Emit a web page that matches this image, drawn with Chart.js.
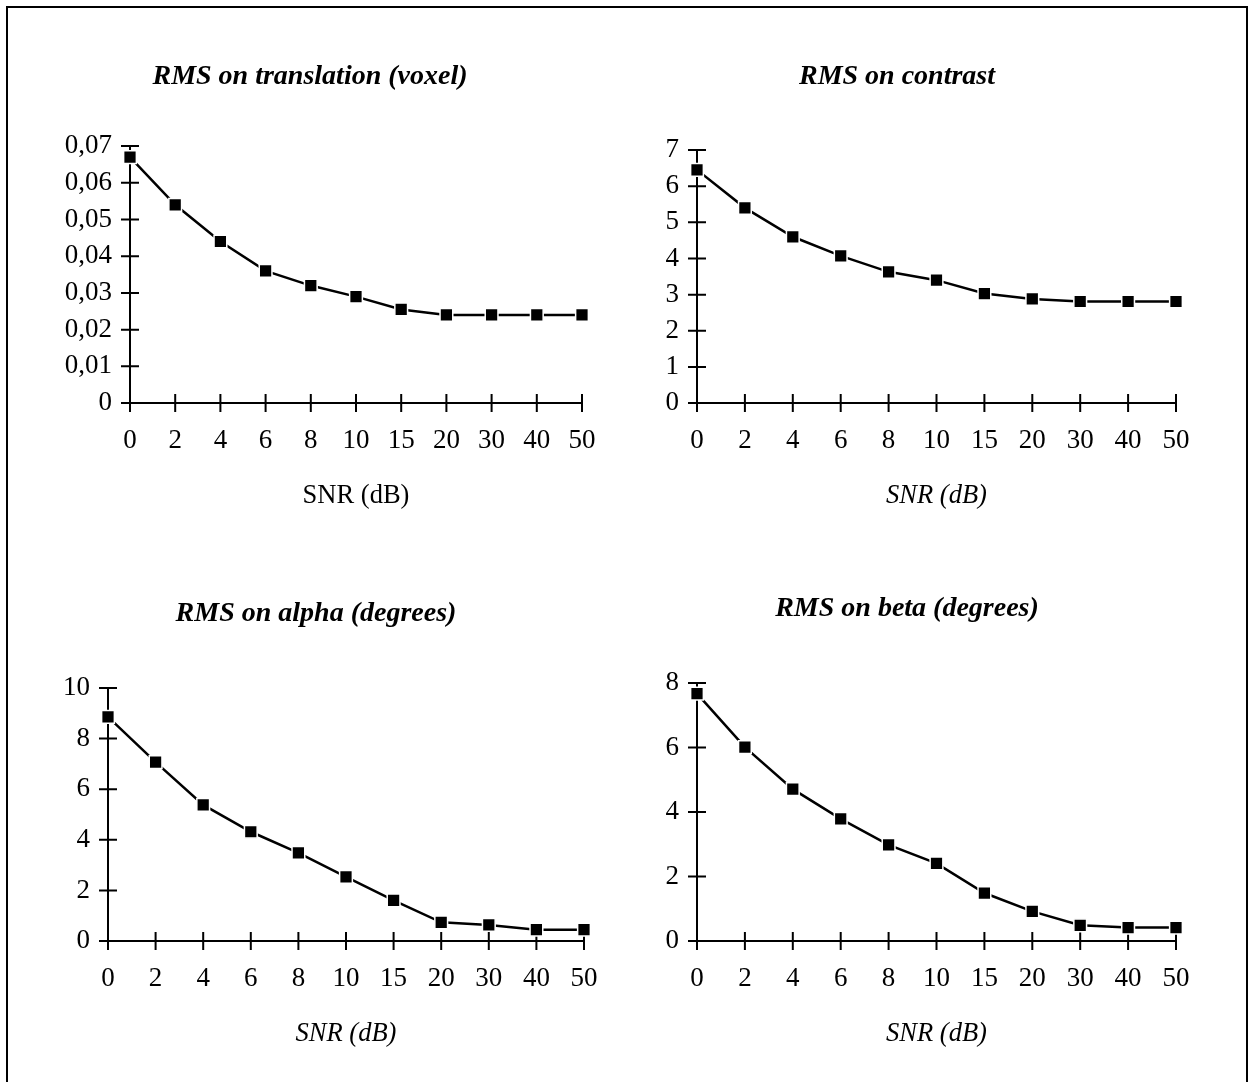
<!DOCTYPE html>
<html>
<head>
<meta charset="utf-8">
<script src="https://cdn.jsdelivr.net/npm/chart.js@4"></script>
<style>
  html, body { margin: 0; padding: 0; background: #fff; width: 1250px; height: 1082px; overflow: hidden; }
  #frame { position: absolute; left: 6px; top: 6px; width: 1238px; height: 1100px; border: 2px solid #000; }
  canvas { position: absolute; }
</style>
</head>
<body>
<div id="frame"></div>
<canvas id="c1"></canvas>
<canvas id="c2"></canvas>
<canvas id="c3"></canvas>
<canvas id="c4"></canvas>
<script>
// SNR values on the x axis
const snrLabels = ['0', '2', '4', '6', '8', '10', '15', '20', '30', '40', '50'];

// RMS errors
const rmsTranslation = [0.067, 0.054, 0.044, 0.036, 0.032, 0.029, 0.0255, 0.024, 0.024, 0.024, 0.024];
const rmsContrast = [6.45, 5.40, 4.60, 4.07, 3.63, 3.40, 3.03, 2.88, 2.81, 2.81, 2.81];
const rmsAlpha = [8.86, 7.07, 5.38, 4.32, 3.49, 2.54, 1.61, 0.74, 0.64, 0.45, 0.45];
const rmsBeta = [7.67, 6.01, 4.71, 3.79, 2.98, 2.41, 1.49, 0.92, 0.49, 0.42, 0.42];

const titles = ['RMS on translation (voxel)', 'RMS on contrast', 'RMS on alpha (degrees)', 'RMS on beta (degrees)'];
const axisTitle = 'SNR (dB)';

const FONT = '"Liberation Serif", "Times New Roman", serif';
const TICK_SIZE = 27;
const AXIS_SIZE = 26.5;
const TITLE_SIZE = 28;
// right padding has to beat half the last label + tick padding, or chart.js takes that instead
const RIGHT_PAD = 38;

// draws the little ticks that cross both axes
const crossTicks = {
  id: 'crossTicks',
  beforeDatasetsDraw(chart) {
    const ctx = chart.ctx;
    const x = chart.scales.x, y = chart.scales.y;
    ctx.save();
    ctx.strokeStyle = '#000';
    ctx.lineWidth = 2;
    ctx.beginPath();
    x.ticks.forEach((t, i) => {
      const px = x.getPixelForTick(i);
      ctx.moveTo(px, y.bottom - 9);
      ctx.lineTo(px, y.bottom + 9);
    });
    y.ticks.forEach((t, i) => {
      const py = y.getPixelForTick(i);
      ctx.moveTo(x.left - 9, py);
      ctx.lineTo(x.left + 9, py);
    });
    ctx.stroke();
    ctx.restore();
  }
};

// g: where the plot, the title and the axis title should land on the page
function makeChart(id, g, values, title, yMax, yStep, fmt, italicAxis) {
  const titleLH = TITLE_SIZE * 1.2;
  const axisLH = AXIS_SIZE * 1.2;
  const tickLH = TICK_SIZE * 1.2;
  // title is centred between canvas left and plot right
  const left = Math.round(2 * g.titleX - g.plotRight);
  const width = g.plotRight + RIGHT_PAD - left;
  const tPad = g.titleY - g.top - titleLH / 2;
  const bPad = g.plotTop - g.top - tPad - titleLH;
  const yWidth = g.axisX - left;
  const xHeight = g.axisTitleY - g.plotBottom + axisLH / 2;
  const height = Math.round(g.plotBottom + xHeight - g.top);

  const canvas = document.getElementById(id);
  canvas.width = width;
  canvas.height = height;
  canvas.style.left = left + 'px';
  canvas.style.top = g.top + 'px';

  return new Chart(canvas.getContext('2d'), {
    type: 'line',
    data: {
      labels: snrLabels,
      datasets: [{
        data: values,
        borderColor: '#000',
        borderWidth: 2.5,
        backgroundColor: '#000',
        pointStyle: 'rect',
        pointRadius: 9,
        pointBackgroundColor: '#000',
        pointBorderColor: '#fff',
        pointBorderWidth: 1.5,
        tension: 0,
        clip: false
      }]
    },
    options: {
      responsive: false,
      animation: false,
      layout: { padding: { left: 0, top: 0, bottom: 0, right: RIGHT_PAD } },
      plugins: {
        legend: { display: false },
        tooltip: { enabled: false },
        title: {
          display: true,
          text: title,
          color: '#000',
          font: { family: FONT, size: TITLE_SIZE, style: 'italic', weight: 'bold', lineHeight: 1.2 },
          padding: { top: tPad, bottom: bPad }
        }
      },
      scales: {
        x: {
          grid: { display: false, drawTicks: false },
          border: { display: true, color: '#000', width: 2 },
          ticks: {
            color: '#000',
            padding: g.tickY - g.plotBottom - tickLH / 2,
            maxRotation: 0,
            autoSkip: false,
            font: { family: FONT, size: TICK_SIZE, lineHeight: 1.2 }
          },
          title: {
            display: true,
            text: axisTitle,
            color: '#000',
            padding: 0,
            font: { family: FONT, size: AXIS_SIZE, style: italicAxis ? 'italic' : 'normal', lineHeight: 1.2 }
          },
          afterFit(scale) { scale.height = xHeight; }
        },
        y: {
          min: 0,
          max: yMax,
          grid: { display: false, drawTicks: false },
          border: { display: true, color: '#000', width: 2 },
          ticks: {
            stepSize: yStep,
            color: '#000',
            padding: 18,
            font: { family: FONT, size: TICK_SIZE, lineHeight: 1.2 },
            callback: fmt
          },
          afterFit(scale) { scale.width = yWidth; }
        }
      }
    },
    plugins: [crossTicks]
  });
}

const commaFmt = v => (v === 0 ? '0' : v.toFixed(2).replace('.', ','));
const intFmt = v => String(Math.round(v));

makeChart('c1', { top: 40, titleX: 310, axisX: 130, plotRight: 582, titleY: 77, plotTop: 146, plotBottom: 403, tickY: 441, axisTitleY: 496 },
  rmsTranslation, titles[0], 0.07, 0.01, commaFmt, false);
makeChart('c2', { top: 40, titleX: 897, axisX: 697, plotRight: 1176, titleY: 77, plotTop: 150, plotBottom: 403, tickY: 441, axisTitleY: 496 },
  rmsContrast, titles[1], 7, 1, intFmt, true);
makeChart('c3', { top: 575, titleX: 316, axisX: 108, plotRight: 584, titleY: 614, plotTop: 688, plotBottom: 941, tickY: 979, axisTitleY: 1034 },
  rmsAlpha, titles[2], 10, 2, intFmt, true);
makeChart('c4', { top: 570, titleX: 907, axisX: 697, plotRight: 1176, titleY: 609, plotTop: 683, plotBottom: 941, tickY: 979, axisTitleY: 1034 },
  rmsBeta, titles[3], 8, 2, intFmt, true);
</script>
</body>
</html>
